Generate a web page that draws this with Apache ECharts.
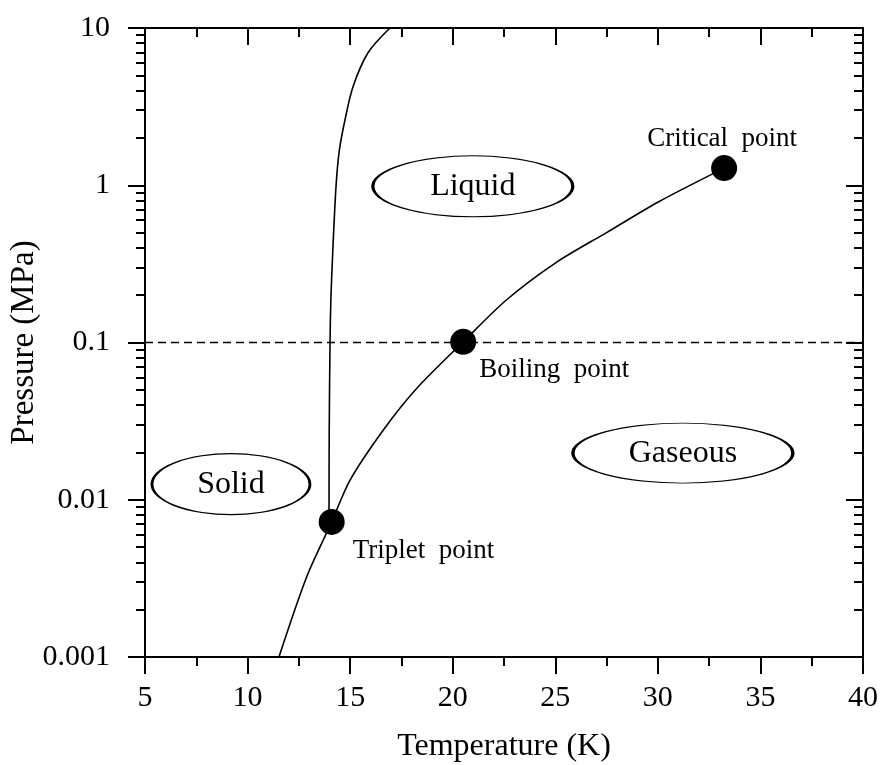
<!DOCTYPE html>
<html>
<head>
<meta charset="utf-8">
<title>Phase diagram</title>
<script src="https://cdn.jsdelivr.net/npm/echarts@6/dist/echarts.min.js"></script>
<style>
    html, body { margin: 0; padding: 0; background: #fff; }
    #chart { width: 886px; height: 765px; }
</style>
</head>
<body>
<div id="chart"></div>
<script>
// Vaporization curve (K, MPa)
var vaporT = [11.53, 12.88, 14.10, 14.99, 16.61, 18.24, 20.51, 22.63, 25.0, 27.5, 30.0, 33.23];
var vaporP = [0.001, 0.00323, 0.00723, 0.0133, 0.0277, 0.051, 0.101, 0.187, 0.32, 0.5, 0.78, 1.285];

// Melting curve
var meltT = [13.97, 13.98, 14.02, 14.06, 14.15, 14.31, 14.47, 14.75, 15.14, 15.87, 16.94];
var meltP = [0.0072, 0.0277, 0.1, 0.1865, 0.371, 0.977, 1.655, 2.61, 4.23, 6.96, 10];

// Marked points
var pointNames = ['Triplet  point', 'Boiling  point', 'Critical  point'];
var pointT = [14.10, 20.51, 33.23];
var pointP = [0.00723, 0.101, 1.285];

// Phase region labels
var phaseNames = ['Liquid', 'Solid', 'Gaseous'];
var phaseT = [20.98, 9.19, 31.22];
var phaseP = [0.984, 0.01256, 0.0198];

// Axis ticks
var xMin = 5, xMax = 40, xStep = 5;
var yTicks = [0.001, 0.01, 0.1, 1, 10];
var yTickLabels = ['0.001', '0.01', '0.1', '1', '10'];
var yMinorTicks = [0.002, 0.003, 0.004, 0.005, 0.006, 0.007, 0.008, 0.009,
                   0.02, 0.03, 0.04, 0.05, 0.06, 0.07, 0.08, 0.09,
                   0.2, 0.3, 0.4, 0.5, 0.6, 0.7, 0.8, 0.9,
                   2, 3, 4, 5, 6, 7, 8, 9];
var atmP = 0.1;

var FONT = 'Liberation Serif';

function pairs(xs, ys) {
    return xs.map(function(x, i) { return [x, ys[i]]; });
}

var lineStyleAxis = { color: '#000', width: 2 };

function xAxisDef(pos, inside, showLabel) {
    return {
        type: 'value', position: pos, min: xMin, max: xMax, interval: xStep,
        axisLine: { show: true, onZero: false, lineStyle: lineStyleAxis },
        axisTick: { show: true, inside: inside, length: 17, lineStyle: lineStyleAxis },
        minorTick: { show: true, splitNumber: 2, length: 9, lineStyle: lineStyleAxis },
        splitLine: { show: false },
        axisLabel: { show: showLabel, fontFamily: FONT, fontSize: 30, color: '#000', margin: 26 },
        name: showLabel ? 'Temperature (K)' : '',
        nameLocation: 'middle', nameGap: 74,
        nameTextStyle: { fontFamily: FONT, fontSize: 32, color: '#000' }
    };
}

function yAxisDef(pos, inside, minor, showLabel) {
    return {
        type: 'log', logBase: 10, position: pos, min: 0.001, max: 10,
        axisLine: { show: true, onZero: false, lineStyle: lineStyleAxis },
        axisTick: {
            show: true, inside: inside, length: minor ? 9 : 17,
            customValues: minor ? yMinorTicks : yTicks, lineStyle: lineStyleAxis
        },
        splitLine: { show: false },
        axisLabel: {
            show: showLabel, customValues: yTicks,
            fontFamily: FONT, fontSize: 30, color: '#000', margin: 35,
            formatter: function(v) {
                for (var i = 0; i < yTicks.length; i++) {
                    if (Math.abs(Math.log10(v) - Math.log10(yTicks[i])) < 1e-6) return yTickLabels[i];
                }
                return '';
            }
        },
        name: showLabel ? 'Pressure (MPa)' : '',
        nameLocation: 'middle', nameGap: 104, nameMoveOverlap: false,
        nameTextStyle: { fontFamily: FONT, fontSize: 33, color: '#000' }
    };
}

var pointLabelPos = [
    { align: 'left', offset: [21, 29] },
    { align: 'left', offset: [16, 28] },
    { align: 'center', offset: [-2, -29] }
];
var phaseSizes = [[200, 61], [158, 61], [220, 60]];

var chart = echarts.init(document.getElementById('chart'));

var option = {
    animation: false,
    backgroundColor: '#fff',
    grid: { left: 145, right: 23, top: 28, bottom: 108, containLabel: false, outerBoundsMode: 'none' },
    xAxis: [xAxisDef('bottom', false, true), xAxisDef('top', true, false)],
    yAxis: [
        yAxisDef('left', false, false, true),
        yAxisDef('left', false, true, false),
        yAxisDef('right', true, false, false),
        yAxisDef('right', true, true, false)
    ],
    series: [
        {
            type: 'line',
            data: pairs(vaporT, vaporP),
            smooth: 0.3,
            showSymbol: false, symbol: 'none',
            lineStyle: { color: '#000', width: 1.6 },
            markLine: {
                silent: true, symbol: 'none',
                label: { show: false },
                lineStyle: { color: '#000', width: 1.3, type: [8, 5] },
                data: [{ yAxis: atmP }]
            },
            z: 3
        },
        {
            type: 'line',
            data: pairs(meltT, meltP),
            smooth: 0.3,
            showSymbol: false, symbol: 'none',
            lineStyle: { color: '#000', width: 1.6 },
            z: 3
        },
        {
            type: 'scatter',
            symbol: 'circle', symbolSize: 26,
            itemStyle: { color: '#000', opacity: 1 },
            data: pointNames.map(function(n, i) {
                return {
                    name: n, value: [pointT[i], pointP[i]],
                    label: {
                        show: true, position: 'inside', formatter: '{b}',
                        align: pointLabelPos[i].align, verticalAlign: 'middle',
                        offset: pointLabelPos[i].offset,
                        fontFamily: FONT, fontSize: 27, color: '#000'
                    }
                };
            }),
            z: 5
        },
        {
            type: 'scatter',
            symbol: 'circle',
            itemStyle: { color: '#fff', borderColor: '#000', borderWidth: 1.8, opacity: 1 },
            data: phaseNames.map(function(n, i) {
                return {
                    name: n, value: [phaseT[i], phaseP[i]],
                    symbolSize: phaseSizes[i]
                };
            }),
            label: {
                show: true, position: 'inside', formatter: '{b}',
                fontFamily: FONT, fontSize: 32, color: '#000'
            },
            z: 4
        }
    ]
};

chart.setOption(option);
</script>
</body>
</html>
